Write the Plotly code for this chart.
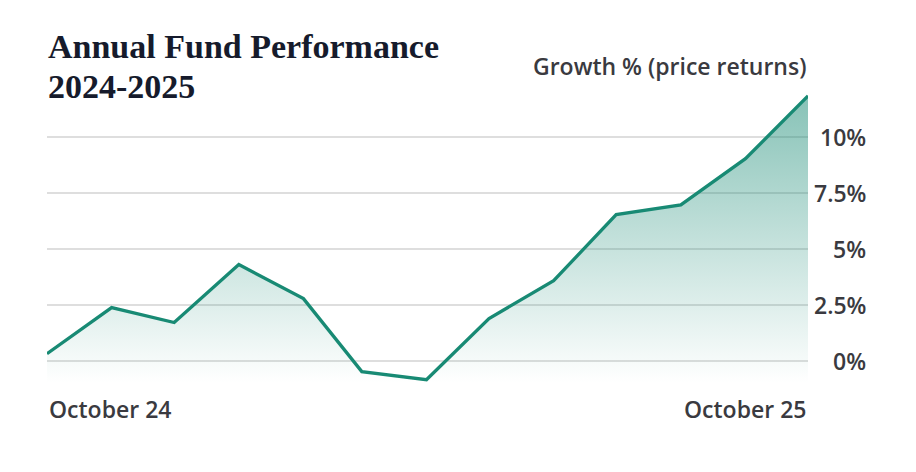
import plotly.graph_objects as go

months = ["2024-10", "2024-11", "2024-12", "2025-01", "2025-02", "2025-03", "2025-04",
          "2025-05", "2025-06", "2025-07", "2025-08", "2025-09", "2025-10"]
growth = [0.31, 2.37, 1.70, 4.29, 2.77, -0.49, -0.85, 1.88, 3.57, 6.52, 6.96, 9.02, 11.83]
tick_vals = [0, 2.5, 5, 7.5, 10]
tick_text = ["0%", "2.5%", "5%", "7.5%", "10%"]
x_labels = ["October 24", "October 25"]
title_lines = ["Annual Fund Performance", "2024-2025"]
y_min, y_max = -1, 12

LINE = "#188a74"
TEXT = "#3a3a40"
SANS = "Open Sans"
FS = 23

fig = go.Figure()
fig.add_trace(go.Scatter(x=months, y=[y_min] * len(months), mode="lines",
                         line=dict(width=0), hoverinfo="skip", showlegend=False))
fig.add_trace(go.Scatter(
    x=months, y=growth, mode="lines", fill="tonexty",
    line=dict(color=LINE, width=3.3),
    fillgradient=dict(type="vertical",
                      colorscale=[[0, "rgba(24,138,116,0.0)"], [1, "rgba(24,138,116,0.52)"]]),
    showlegend=False))

annotations = []
for v, t in zip(tick_vals, tick_text):
    annotations.append(dict(x=1.0, xref="paper", xshift=60, y=v, yref="y", text=t,
                            showarrow=False, xanchor="right", yanchor="middle",
                            font=dict(family=SANS, size=FS, color=TEXT, weight=600)))
annotations.append(dict(x=months[0], y=0, xref="x", yref="paper", yshift=-26,
                        text=x_labels[0], showarrow=False, xanchor="left", yanchor="middle",
                        font=dict(family=SANS, size=FS, color=TEXT, weight=600)))
annotations.append(dict(x=months[-1], y=0, xref="x", yref="paper", yshift=-26,
                        text=x_labels[1], showarrow=False, xanchor="right", yanchor="middle",
                        font=dict(family=SANS, size=FS, color=TEXT, weight=600)))
annotations.append(dict(x=1.0, xref="paper", y=1.0, yref="paper", yshift=26,
                        text="Growth % (price returns)", showarrow=False,
                        xanchor="right", yanchor="middle",
                        font=dict(family=SANS, size=FS, color=TEXT, weight=600)))
for i, line in enumerate(title_lines):
    annotations.append(dict(x=0, xref="paper", xshift=-1, y=1.0, yref="paper",
                            yshift=84 - 47 - 40 * i + 9, text=line, showarrow=False,
                            xanchor="left", yanchor="middle",
                            font=dict(family="Liberation Serif", size=34, color="#161b2c",
                                      weight=700)))

fig.update_layout(
    width=908, height=464,
    margin=dict(l=39, r=108, t=84, b=88.6),
    paper_bgcolor="white", plot_bgcolor="white",
    xaxis=dict(range=[months[0], months[-1]], showgrid=False, showticklabels=False,
               zeroline=False, showline=False, ticks=""),
    yaxis=dict(range=[y_min, y_max], tickvals=tick_vals, showticklabels=False,
               gridcolor="#dedede", gridwidth=1.5, zeroline=False, showline=False, ticks=""),
    annotations=annotations,
)

fig.write_html("out.html")
